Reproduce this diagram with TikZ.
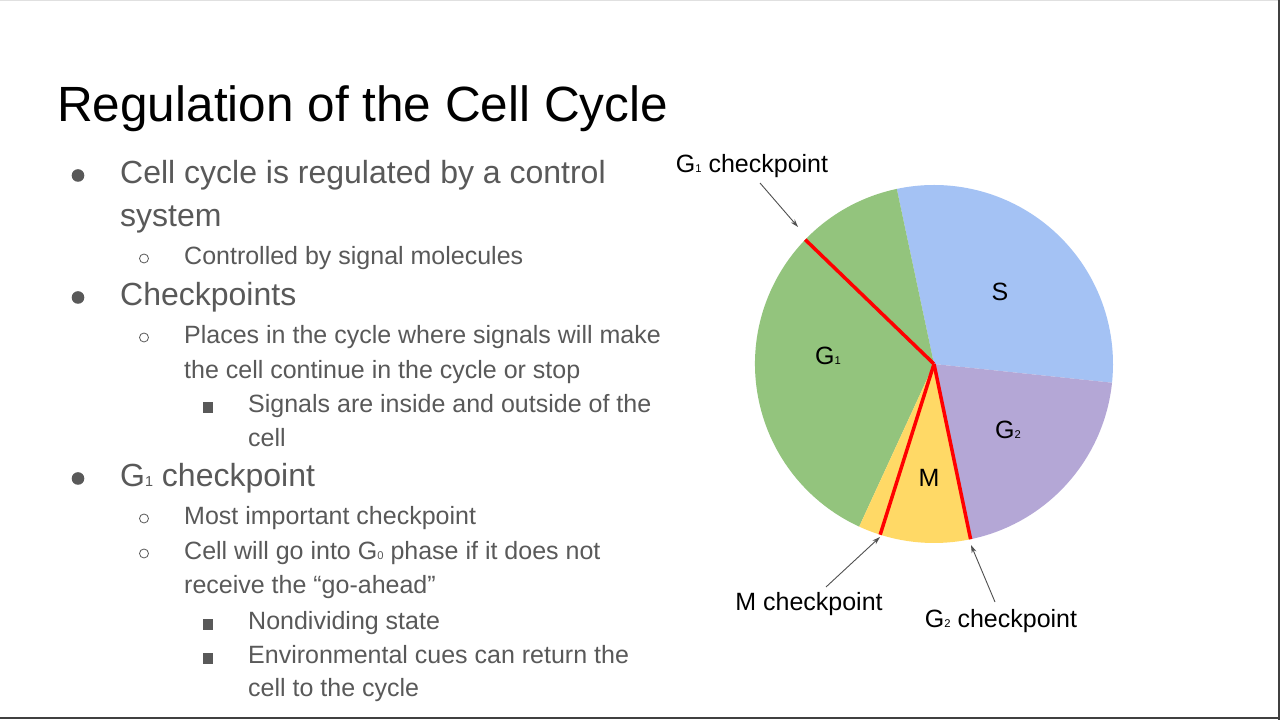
\documentclass[tikz,border=0pt]{standalone}
\usepackage{fontspec}
\setmainfont{Liberation Sans}
\usepackage{xcolor}
\usepackage{graphicx}
\usepackage{tikz}
\usetikzlibrary{positioning, arrows.meta, calc}
\definecolor{txtgray}{HTML}{595959}
\definecolor{arrowgray}{HTML}{505050}
\definecolor{sblue}{HTML}{A4C2F4}
\definecolor{gonegreen}{HTML}{93C47D}
\definecolor{gtwopurple}{HTML}{B4A7D6}
\definecolor{myellow}{HTML}{FFD966}
\definecolor{chkred}{HTML}{FF0000}
\newcommand{\lowidx}[1]{\scalebox{0.45}{#1}}

\begin{document}
\begin{tikzpicture}[x=1pt, y=1pt,
    lvlone/.style={anchor=base west, inner sep=0pt, text=txtgray, font=\fontsize{32}{38}\selectfont},
    lvltwo/.style={anchor=base west, inner sep=0pt, text=txtgray, font=\fontsize{25}{30}\selectfont},
    piename/.style={inner sep=0pt, font=\fontsize{25}{30}\selectfont},
    chkname/.style={inner sep=0pt, font=\fontsize{25}{30}\selectfont},
    chkline/.style={draw=chkred, line width=3.5pt},
    chkarrow/.style={draw=arrowgray, line width=0.9pt, -{Stealth[length=8pt, width=5pt]}}]
    \useasboundingbox (0,0) rectangle (1280,720);
    \fill[white] (0,0) rectangle (1280,720);
    \fill[black!12] (0,719) rectangle (1280,720);
    \fill[black!75] (0,0.5) rectangle (1280,2.5);
    \fill[black!75] (1277.5,0) rectangle (1279.5,720);

    % title and bullet list
    \node[anchor=base west, inner sep=0pt, font=\fontsize{49.5}{58}\selectfont] (title) at (57,598) {Regulation of the Cell Cycle};
    \node[lvlone] (ccycle) at (120,536) {Cell cycle is regulated by a control};
    \node[lvlone] (system) at (120,493) {system};
    \node[lvltwo] (signal) at (184,455) {Controlled by signal molecules};
    \node[lvlone] (chkpts) at (120,414) {Checkpoints};
    \node[lvltwo] (places) at (184,376) {Places in the cycle where signals will make};
    \node[lvltwo] (places2) at (184,341) {the cell continue in the cycle or stop};
    \node[lvltwo] (inside) at (248,307) {Signals are inside and outside of the};
    \node[lvltwo] (inside2) at (248,273) {cell};
    \node[lvlone] (gonebul) at (120,233) {G\lowidx{1} checkpoint};
    \node[lvltwo] (important) at (184,195) {Most important checkpoint};
    \node[lvltwo] (gzero) at (184,160) {Cell will go into G\lowidx{0} phase if it does not};
    \node[lvltwo] (gzero2) at (184,126) {receive the “go-ahead”};
    \node[lvltwo] (nondiv) at (248,90) {Nondividing state};
    \node[lvltwo] (cues) at (248,56) {Environmental cues can return the};
    \node[lvltwo] (cues2) at (248,23) {cell to the cycle};
    \foreach \n in {ccycle, chkpts, gonebul}
      \fill[txtgray] ($(\n.base west)+(-42,8.5)$) circle (6.3pt);
    \foreach \n in {signal, places, important, gzero}
      \draw[txtgray, line width=0.8pt] ($(\n.base west)+(-40,6.5)$) circle (4.5pt);
    \foreach \n in {inside, nondiv, cues}
      \fill[txtgray] ($(\n.base west)+(-45.2,0.3)$) rectangle ++(10.3,10.3);

    % pie of the phases
    \coordinate (pc) at (934,356);
    \fill[sblue] (pc) -- ($(pc)+(-6:179pt)$) arc[start angle=-6, end angle=102, radius=179pt] -- cycle;
    \fill[gonegreen] (pc) -- ($(pc)+(102:179pt)$) arc[start angle=102, end angle=245.3, radius=179pt] -- cycle;
    \fill[myellow] (pc) -- ($(pc)+(245.3:179pt)$) arc[start angle=245.3, end angle=281.8, radius=179pt] -- cycle;
    \fill[gtwopurple] (pc) -- ($(pc)+(281.8:179pt)$) arc[start angle=281.8, end angle=354, radius=179pt] -- cycle;
    \coordinate (gonecut) at ($(pc)+(136:179pt)$);
    \coordinate (mcut) at ($(pc)+(252.5:179pt)$);
    \coordinate (gtwocut) at ($(pc)+(281.8:179pt)$);
    \draw[chkline] (pc) -- (gonecut);
    \draw[chkline] (pc) -- (mcut);
    \draw[chkline] (pc) -- (gtwocut);

    \node[piename] (sname) at (1000,428) {S};
    \node[piename] (gonename) at (828,364) {G\lowidx{1}};
    \node[piename] (gtwoname) at (1008,290) {G\lowidx{2}};
    \node[piename] (mname) at (929,242) {M};

    % checkpoint labels
    \node[chkname] (gonelbl) at (752,554) {G\lowidx{1} checkpoint};
    \node[chkname] (mlbl) at (809,116) {M checkpoint};
    \node[chkname] (gtwolbl) at (1001,99) {G\lowidx{2} checkpoint};
    \coordinate (gonefrom) at (760,537);
    \coordinate (goneto) at (798,493);
    \coordinate (mfrom) at (826,133);
    \coordinate (mto) at (880,183);
    \coordinate (gtwofrom) at (995,118);
    \coordinate (gtwoto) at (971,175);
    \draw[chkarrow] (gonefrom) -- (goneto);
    \draw[chkarrow] (mfrom) -- (mto);
    \draw[chkarrow] (gtwofrom) -- (gtwoto);
\end{tikzpicture}
\end{document}
